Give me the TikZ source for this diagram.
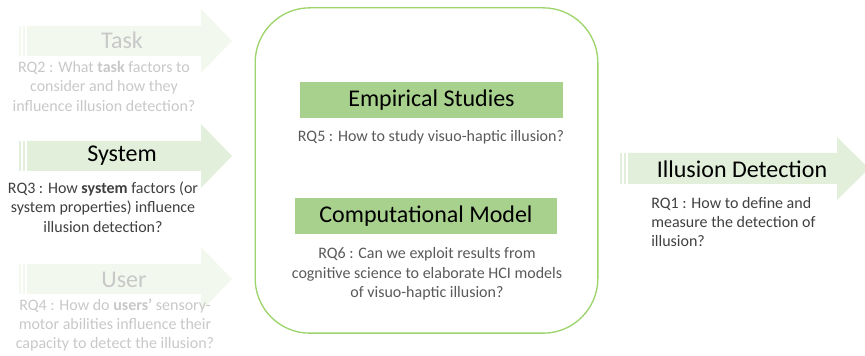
\documentclass[tikz,border=0pt]{standalone}
\usepackage{fontspec}
\setmainfont{Carlito}
\usetikzlibrary{positioning}

\definecolor{arrowgreen}{HTML}{E2EFDA}
\definecolor{fadegreen}{HTML}{F3F8EF}
\definecolor{boxgreen}{HTML}{A9D18E}
\definecolor{framegreen}{HTML}{9DD46C}
\definecolor{rqgray}{HTML}{404040}
\definecolor{midgray}{HTML}{595959}
\definecolor{fadegray}{HTML}{C8C8C8}

\tikzset{
	title/.style={font=\fontsize{18}{21}\selectfont, text=black, inner sep=0pt},
	question/.style={font=\fontsize{12}{14.6}\selectfont, text=rqgray, align=center, inner sep=0pt},
	faded/.style={text=fadegray},
	studybox/.style={fill=boxgreen, minimum height=27pt, font=\fontsize{18}{21}\selectfont, text=black}
}

\begin{document}
\begin{tikzpicture}[x=0.75pt, y=-0.75pt]
			\useasboundingbox (0,0) rectangle (865,356);
			
			% striped arrows on the left
			\foreach \y/\col in {41/fadegreen, 156/arrowgreen, 279/fadegreen}
			{
				\fill[\col] (19,{\y-15}) rectangle (21,{\y+15});
				\fill[\col] (23,{\y-15}) rectangle (25,{\y+15});
				\fill[\col] (27,{\y-15}) -- (201,{\y-15}) -- (201,{\y-32}) -- (232,\y)
					-- (201,{\y+32}) -- (201,{\y+15}) -- (27,{\y+15}) -- cycle;
			}
			
			% striped arrow on the right
			\begin{scope}[arrowgreen]
				\fill (620,153) rectangle (622,184);
				\fill (624,153) rectangle (626,184);
				\fill (628,153) -- (837,153) -- (837,137) -- (869,168.5)
					-- (837,200) -- (837,184) -- (628,184) -- cycle;
			\end{scope}
			
			\node[title, faded] (task) at (122,40) {Task};
			\node[question, faded] (rq2) at (104,86) {RQ2 : What \textbf{task} factors to\\consider and how they\\influence illusion detection?};
			
			\node[title] (system) at (122,156) {System};
			\node[question] (rq3) at (103,207) {RQ3 : How \textbf{system} factors (or\\system properties) influence\\illusion detection?};
			
			\node[title, faded] (user) at (124,280) {User};
			\node[question, faded] (rq4) at (115,325) {RQ4 : How do \textbf{users'} sensory-\\motor abilities influence their\\capacity to detect the illusion?};
			
			\node[title] (detection) at (742,169) {Illusion Detection};
			\node[question, align=left, anchor=west] (rq1) at (651,222) {RQ1 : How to define and\\measure the detection of\\illusion?};
			
			% rounded frame in the middle
			\node[draw=framegreen, line width=1pt, rounded corners=41pt, minimum width=257pt, minimum height=244pt] (frame) at (426.5,170.5) {};
			
			\node[studybox, minimum width=197pt] (empirical) at (431.5,100) {Empirical Studies};
			\node[question, text=midgray] (rq5) at (431,137) {RQ5 : How to study visuo-haptic illusion?};
			
			\node[studybox, minimum width=197pt] (model) at (426,216.5) {Computational Model};
			\node[question, text=midgray] (rq6) at (427,274) {RQ6 : Can we exploit results from\\cognitive science to elaborate HCI models\\of visuo-haptic illusion?};
		\end{tikzpicture}
\end{document}
